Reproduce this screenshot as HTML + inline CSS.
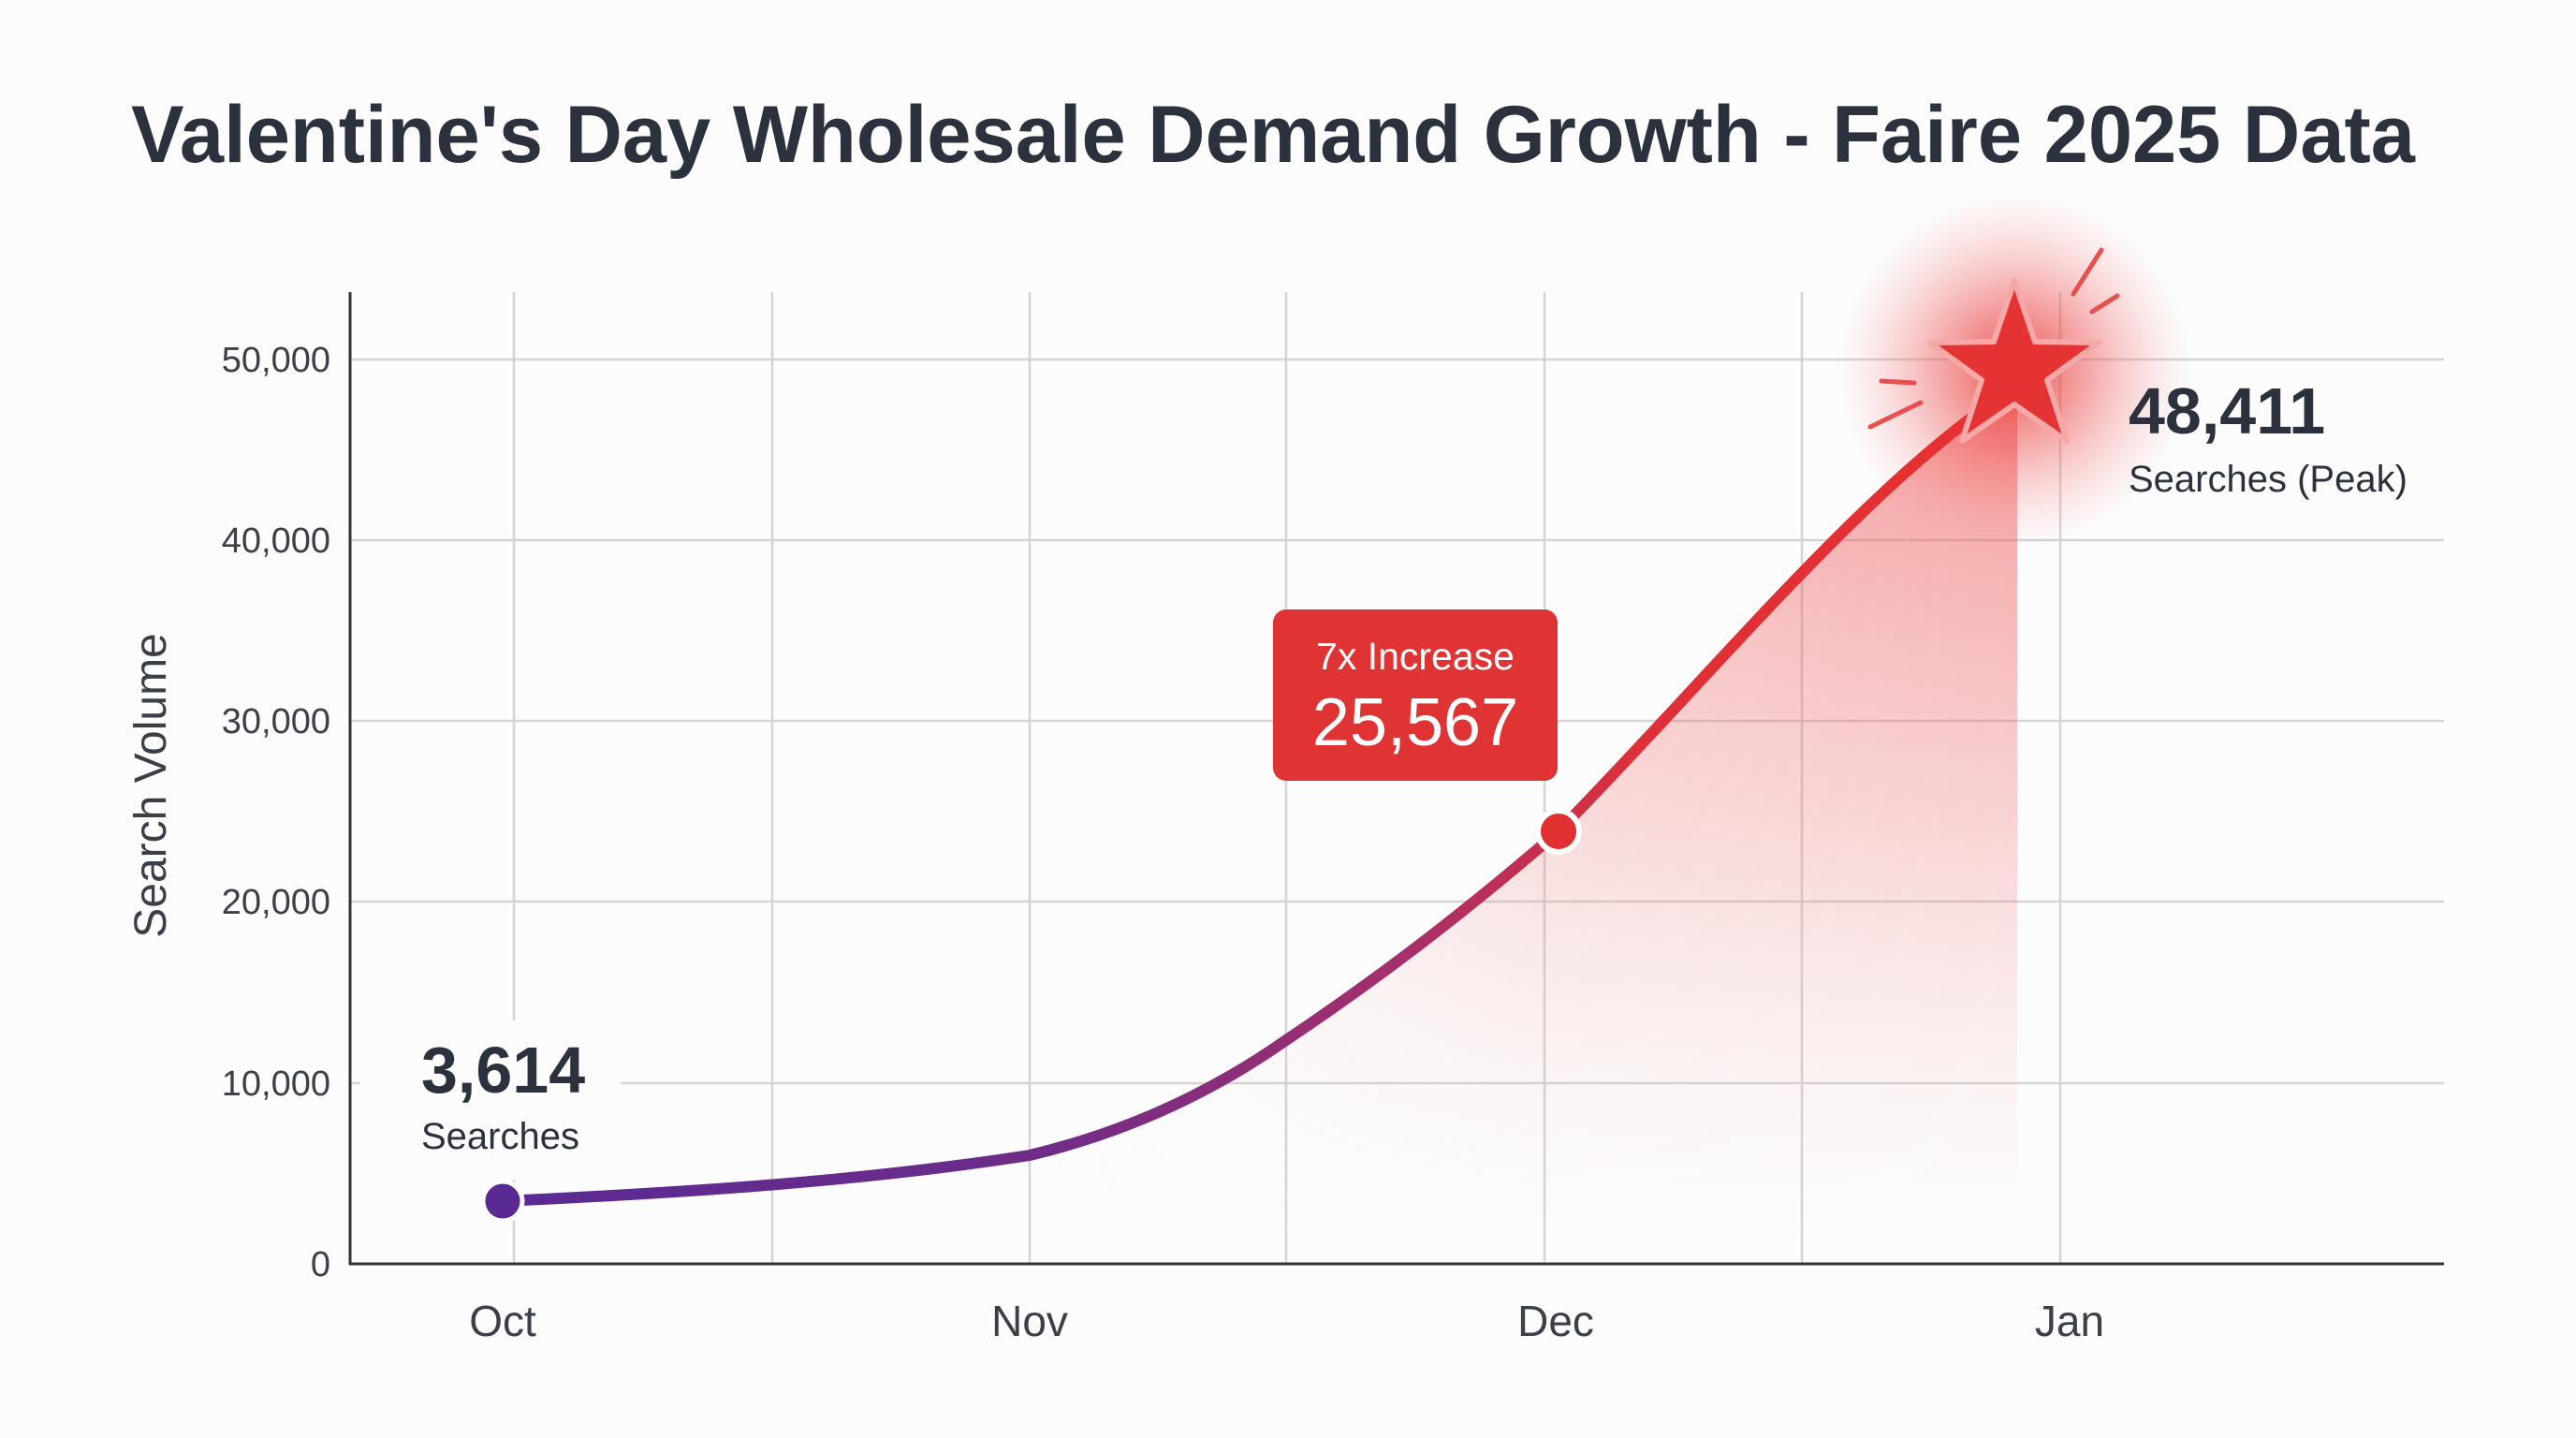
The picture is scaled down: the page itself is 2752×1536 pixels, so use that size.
<!DOCTYPE html>
<html><head><meta charset="utf-8"><style>
html,body{margin:0;padding:0;background:#fcfcfc;}
svg{display:block;}
text{font-family:"Liberation Sans",sans-serif;}
</style></head><body>
<svg width="2752" height="1536" viewBox="0 0 2752 1536" xmlns="http://www.w3.org/2000/svg">
<defs>
<linearGradient id="lineg" x1="537" y1="0" x2="2155" y2="0" gradientUnits="userSpaceOnUse">
<stop offset="0" stop-color="#5a2a93"/><stop offset="0.35" stop-color="#6d2c88"/><stop offset="0.6" stop-color="#a82f6a"/><stop offset="0.75" stop-color="#dd3038"/><stop offset="1" stop-color="#e83030"/>
</linearGradient>
<linearGradient id="fillg" x1="0" y1="420" x2="0" y2="1320" gradientUnits="userSpaceOnUse">
<stop offset="0" stop-color="#ee4a4a" stop-opacity="0.55"/><stop offset="0.5" stop-color="#f07070" stop-opacity="0.3"/><stop offset="1" stop-color="#f8c0c0" stop-opacity="0"/>
</linearGradient>
<linearGradient id="fillh" x1="1150" y1="0" x2="2155" y2="0" gradientUnits="userSpaceOnUse">
<stop offset="0" stop-color="#fff" stop-opacity="0"/><stop offset="0.5" stop-color="#fff" stop-opacity="0.8"/><stop offset="1" stop-color="#fff" stop-opacity="1"/>
</linearGradient>
<mask id="fm"><rect x="0" y="0" width="2752" height="1536" fill="url(#fillh)"/></mask>
<radialGradient id="glow" cx="2152" cy="395" r="190" gradientUnits="userSpaceOnUse">
<stop offset="0" stop-color="#e83030" stop-opacity="0.85"/><stop offset="0.45" stop-color="#ee5050" stop-opacity="0.45"/><stop offset="1" stop-color="#f8a0a0" stop-opacity="0"/>
</radialGradient>
</defs>
<rect width="2752" height="1536" fill="#fcfcfc"/>
<text x="1360" y="173" font-size="86" font-weight="bold" fill="#2b313d" text-anchor="middle" textLength="2440" lengthAdjust="spacingAndGlyphs">Valentine's Day Wholesale Demand Growth - Faire 2025 Data</text>
<g stroke="#d4d4d4" stroke-width="2.5">
<line x1="374" y1="384" x2="2611" y2="384"/>
<line x1="374" y1="577" x2="2611" y2="577"/>
<line x1="374" y1="770" x2="2611" y2="770"/>
<line x1="374" y1="963" x2="2611" y2="963"/>
<line x1="374" y1="1157" x2="2611" y2="1157"/>
<line x1="549" y1="312" x2="549" y2="1350"/>
<line x1="825" y1="312" x2="825" y2="1350"/>
<line x1="1100" y1="312" x2="1100" y2="1350"/>
<line x1="1374" y1="312" x2="1374" y2="1350"/>
<line x1="1650" y1="312" x2="1650" y2="1350"/>
<line x1="1925" y1="312" x2="1925" y2="1350"/>
<line x1="2201" y1="312" x2="2201" y2="1350"/>
</g>
<rect x="385" y="1090" width="278" height="170" fill="#fcfcfc"/>
<path d="M1150 1350 L1150 1220 C1230 1180 1300 1160 1374 1111 C1480 1040 1570 970 1665 888 C1830 720 2000 510 2155 415 L2155 1350 Z" fill="url(#fillg)" mask="url(#fm)"/>
<circle cx="2152" cy="395" r="190" fill="url(#glow)"/>
<line x1="374" y1="312" x2="374" y2="1351" stroke="#333" stroke-width="3"/>
<line x1="373" y1="1350" x2="2611" y2="1350" stroke="#333" stroke-width="3"/>
<g font-size="38" fill="#3a3f48" text-anchor="end">
<text x="353" y="397">50,000</text><text x="353" y="590">40,000</text><text x="353" y="783">30,000</text><text x="353" y="976">20,000</text><text x="353" y="1170">10,000</text><text x="353" y="1363">0</text>
</g>
<g font-size="46" fill="#3a3f48" text-anchor="middle">
<text x="537" y="1427">Oct</text><text x="1100" y="1427">Nov</text><text x="1662" y="1427">Dec</text><text x="2211" y="1427">Jan</text>
</g>
<text transform="translate(177,839) rotate(-90)" font-size="48" fill="#3a3f48" text-anchor="middle">Search Volume</text>
<path d="M537 1283 C700 1275 900 1265 1100 1234 C1200 1210 1290 1170 1374 1111 C1480 1040 1570 970 1665 888 C1830 720 2000 510 2155 412" fill="none" stroke="url(#lineg)" stroke-width="12" stroke-linecap="round"/>
<circle cx="537" cy="1283" r="21" fill="#5a2a93" stroke="#fff" stroke-width="5"/>
<circle cx="1665" cy="888" r="22" fill="#e03030" stroke="#fff" stroke-width="6"/>
<g stroke="#e85050" stroke-width="5" stroke-linecap="round">
<line x1="2215" y1="314" x2="2245" y2="267"/>
<line x1="2235" y1="333" x2="2262" y2="316"/>
<line x1="2010" y1="407" x2="2045" y2="409"/>
<line x1="1998" y1="456" x2="2052" y2="430"/>
</g>
<polygon points="2152,300 2174,365 2242,366 2187,406 2208,471 2152,432 2096,471 2117,406 2062,366 2130,365" fill="#e53232" stroke="#f6a8a8" stroke-width="6" stroke-linejoin="round"/>
<rect x="1360" y="651" width="304" height="183" rx="14" fill="#e03434"/>
<text x="1512" y="715" font-size="41" fill="#fff" text-anchor="middle">7x Increase</text>
<text x="1512" y="796" font-size="72" fill="#fff" text-anchor="middle">25,567</text>
<text x="450" y="1167" font-size="70" font-weight="bold" fill="#2b313d">3,614</text>
<text x="450" y="1227" font-size="40" fill="#2b313d">Searches</text>
<text x="2274" y="463" font-size="70" font-weight="bold" fill="#2b313d">48,411</text>
<text x="2274" y="525" font-size="40" fill="#2b313d">Searches (Peak)</text>
</svg>
</body></html>
